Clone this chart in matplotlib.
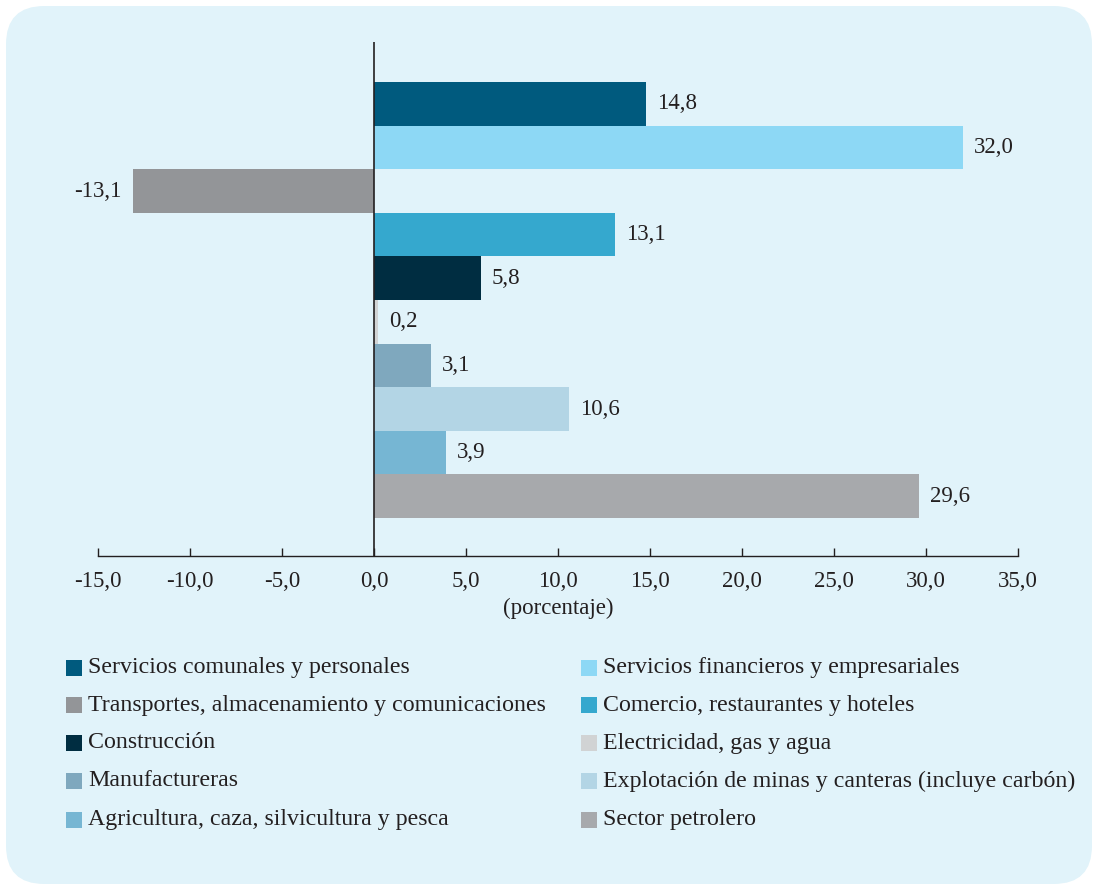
import matplotlib
matplotlib.use("Agg")
import matplotlib.pyplot as plt
from matplotlib.patches import FancyBboxPatch, Rectangle

categories = [
    "Servicios comunales y personales",
    "Servicios financieros y empresariales",
    "Transportes, almacenamiento y comunicaciones",
    "Comercio, restaurantes y hoteles",
    "Construcción",
    "Electricidad, gas y agua",
    "Manufactureras",
    "Explotación de minas y canteras (incluye carbón)",
    "Agricultura, caza, silvicultura y pesca",
    "Sector petrolero",
]
values = [14.8, 32.0, -13.1, 13.1, 5.8, 0.2, 3.1, 10.6, 3.9, 29.6]
colors = ["#005A7E", "#8DD8F5", "#939598", "#35A8CE", "#002D41",
          "#D1D3D4", "#7FA8BE", "#B3D5E5", "#76B6D3", "#A7A9AC"]
xticks = [-15, -10, -5, 0, 5, 10, 15, 20, 25, 30, 35]
xlabel = "(porcentaje)"

plt.rcParams['font.family'] = ['Liberation Serif', 'DejaVu Serif']
FS = 16.5
FS_LEG = 17.2
W, H = 1093, 885
fig = plt.figure(figsize=(W / 100, H / 100), dpi=100)
fig.patch.set_facecolor("white")

bg = FancyBboxPatch((6 / W, 1 - 884 / H), (1086) / W, (878) / H,
                    boxstyle="round,pad=0,rounding_size=0.035",
                    transform=fig.transFigure, facecolor="#E1F3FA",
                    edgecolor="none", zorder=-10, mutation_aspect=W / H)
fig.patches.append(bg)

ax = fig.add_axes([98 / W, 1 - 556 / H, 920 / W, 514 / H])
ax.set_facecolor("none")
n = len(values)
ypos = list(range(n))
ax.barh(ypos, values, height=1.0, color=colors, zorder=2)
ax.set_xlim(-15, 35)
ax.set_ylim(n - 1 + 0.5 + 0.87, -0.5 - 0.92)

for y, v in zip(ypos, values):
    lab = f"{v:.1f}".replace(".", ",")
    if v < 0:
        ax.annotate(lab, (v, y), xytext=(-11, 0), textcoords="offset pixels",
                    ha="right", va="center", fontsize=FS, color="#231F20")
    else:
        ax.annotate(lab, (v, y), xytext=(11, 0), textcoords="offset pixels",
                    ha="left", va="center", fontsize=FS, color="#231F20")

ax.axvline(0, color="#231F20", lw=1.2, zorder=3)
for s in ["top", "right", "left"]:
    ax.spines[s].set_visible(False)
ax.spines["bottom"].set_color("#231F20")
ax.spines["bottom"].set_linewidth(1.0)
ax.set_yticks([])
ax.set_xticks(xticks)
ax.set_xticklabels([f"{t:.1f}".replace(".", ",") for t in xticks], fontsize=FS,
                   color="#231F20")
ax.tick_params(axis="x", direction="in", length=6, width=1, color="#231F20", pad=11)
ax.set_xlabel(xlabel, fontsize=FS, color="#231F20", labelpad=4)

# legend
rows_y = [668, 705, 743, 781, 820]
col_x = [66, 581]
sq = 16
for i, (c, lab) in enumerate(zip(colors, categories)):
    col = i % 2
    row = i // 2
    x0 = col_x[col]
    yc = rows_y[row]
    fig.patches.append(Rectangle((x0 / W, 1 - (yc + sq / 2) / H), sq / W, sq / H,
                                 transform=fig.transFigure, facecolor=c,
                                 edgecolor="none"))
    fig.text((x0 + sq + 6) / W, 1 - yc / H, lab, fontsize=FS_LEG, color="#231F20",
             ha="left", va="center")

fig.savefig("out.png", dpi=100)
